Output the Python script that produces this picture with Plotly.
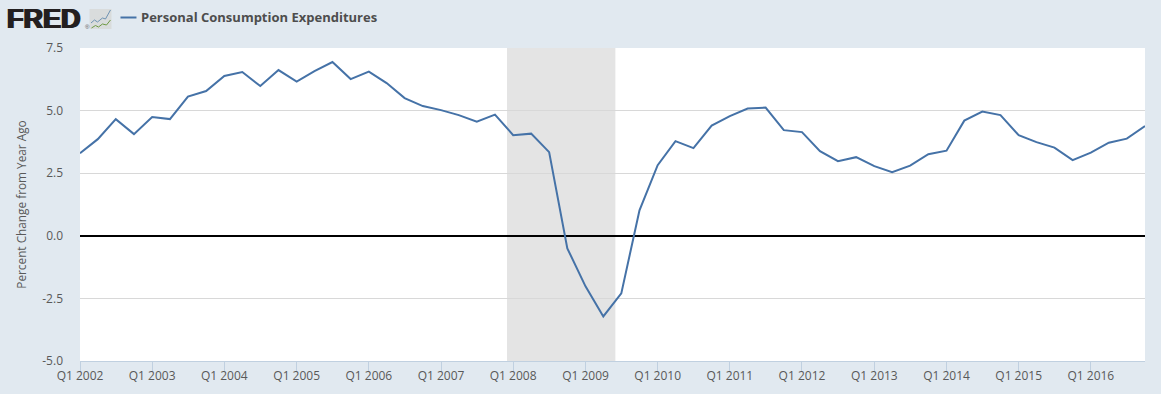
import plotly.graph_objects as go

# Quarter starts, Q1 2002 .. Q4 2016
quarters = [f"{y}-{m:02d}-01" for y in range(2002, 2017) for m in (1, 4, 7, 10)]
pce_pct_change = [
    3.30, 3.86, 4.66, 4.06, 4.74, 4.66, 5.56, 5.78, 6.38, 6.54, 5.98, 6.62,
    6.16, 6.58, 6.94, 6.26, 6.56, 6.10, 5.50, 5.18, 5.02, 4.82, 4.56, 4.84,
    4.02, 4.08, 3.34, -0.50, -2.02, -3.22, -2.30, 1.02, 2.82, 3.78, 3.50, 4.40,
    4.78, 5.08, 5.12, 4.22, 4.14, 3.38, 2.98, 3.14, 2.78, 2.54, 2.80, 3.26,
    3.40, 4.60, 4.96, 4.82, 4.02, 3.74, 3.52, 3.02, 3.32, 3.72, 3.88, 4.38,
]
tick_dates = [f"{y}-01-01" for y in range(2002, 2017)]
tick_labels = [f"Q1 {y}" for y in range(2002, 2017)]
y_ticks = [-5.0, -2.5, 0.0, 2.5, 5.0, 7.5]
y_tick_labels = ["-5.0", "-2.5", "0.0", "2.5", "5.0", "7.5"]
recession = ["2007-12-01", "2009-06-01"]
series_name = "Personal Consumption Expenditures"
y_title = "Percent Change from Year Ago"

BG = "#e1e9f0"
LINE = "#4572a7"
TEXT = "#595959"
FONT = "Open Sans"

L, T, R, B = 79.5, 48.0, 1145.0, 361.0
px = lambda v: (v - L) / (R - L)
py = lambda v: 1 - (v - T) / (B - T)


def pxpath(points):
    return "M " + " L ".join(f"{px(a):.5f} {py(b):.5f}" for a, b in points)


shapes = [
    dict(type="rect", xref="x", yref="paper", x0=recession[0], x1=recession[1],
         y0=0, y1=1, fillcolor="#e4e4e4", line_width=0, layer="below"),
    # legend key
    dict(type="line", xref="paper", yref="paper", x0=px(120), x1=px(136),
         y0=py(17.5), y1=py(17.5), line=dict(color=LINE, width=2)),
    # logo icon
    dict(type="rect", xref="paper", yref="paper", x0=px(89), x1=px(111),
         y0=py(29), y1=py(9), fillcolor="#d9dcdc", line_width=0),
    dict(type="path", xref="paper", yref="paper",
         path=pxpath([(90.5, 23), (94, 20), (97, 22), (102, 18), (105, 19), (110, 10)]),
         line=dict(color="#6f93b3", width=1)),
    dict(type="path", xref="paper", yref="paper",
         path=pxpath([(91, 28), (95, 25.5), (98, 27), (102, 24), (106, 25), (110, 20)]),
         line=dict(color="#6f9a45", width=1)),
]

fig = go.Figure(go.Scatter(
    x=quarters, y=pce_pct_change, mode="lines", name=series_name,
    line=dict(color=LINE, width=2), hoverinfo="x+y",
))

fig.update_layout(
    width=1161, height=394, autosize=False,
    margin=dict(l=L, r=1161 - R, t=T, b=394 - B, autoexpand=False),
    paper_bgcolor=BG, plot_bgcolor="#ffffff",
    showlegend=False, shapes=shapes,
    font=dict(family=FONT, size=12, color=TEXT),
    xaxis=dict(
        type="date", range=[quarters[0], quarters[-1]],
        tickmode="array", tickvals=tick_dates, ticktext=tick_labels,
        ticks="outside", ticklen=10, tickwidth=1, tickcolor="#c0d0e0",
        showgrid=False, showline=True, linecolor="#c0d0e0", linewidth=1,
        zeroline=False, tickfont=dict(size=12, color=TEXT), ticklabelstandoff=-6,
    ),
    yaxis=dict(
        range=[-5, 7.5], tickmode="array", tickvals=y_ticks, ticktext=y_tick_labels,
        showgrid=True, gridcolor="#d8d8d8", gridwidth=1, zeroline=True,
        zerolinecolor="#000000", zerolinewidth=2, showline=False, ticks="",
        tickfont=dict(size=12, color=TEXT), ticklabelstandoff=16,
        title=dict(text=y_title, font=dict(size=11.8, color=TEXT), standoff=13),
    ),
    annotations=[
        dict(text="FRED", xref="paper", yref="paper", x=px(4), y=py(18.5),
             xanchor="left", yanchor="middle", showarrow=False,
             font=dict(family="Liberation Sans", size=27, color="#231f20", weight=700,
                       shadow="1px 0 0 #231f20, -1px 0 0 #231f20")),
        dict(text="®", xref="paper", yref="paper", x=px(83), y=py(27),
             xanchor="left", yanchor="middle", showarrow=False,
             font=dict(family="Liberation Sans", size=6, color="#555555")),
        dict(text=series_name, xref="paper", yref="paper", x=px(139), y=py(17.5),
             xanchor="left", yanchor="middle", showarrow=False,
             font=dict(family=FONT, size=13, color="#4d4d4d", weight=700)),
    ],
)

fig.write_html("out.html", config={"displayModeBar": False},
               post_script="document.body.style.margin='0';document.body.style.background='%s';" % BG)
